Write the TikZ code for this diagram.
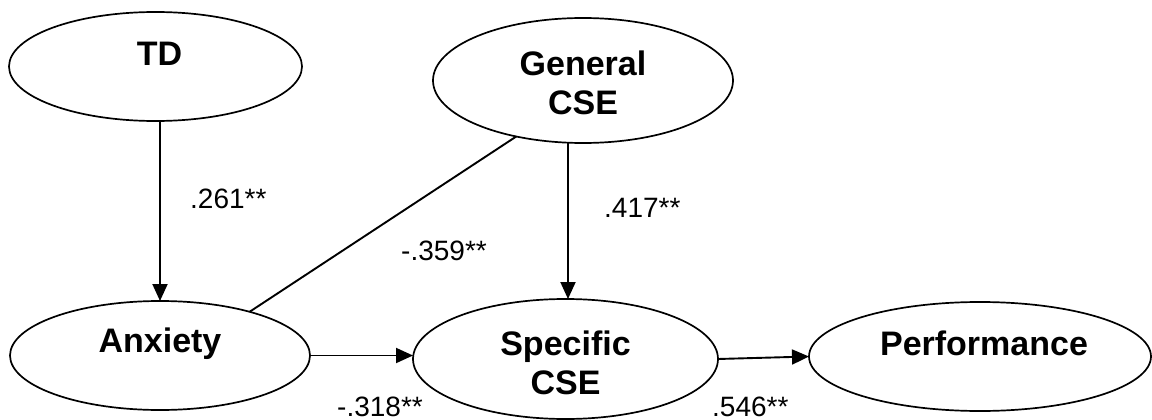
\documentclass[tikz,border=0pt]{standalone}
\usepackage{fontspec}
\setmainfont{Liberation Sans}
\usetikzlibrary{shapes.geometric,arrows.meta}
\tikzset{
  ell/.style={ellipse, draw, line width=1.7pt, inner sep=0pt, outer sep=0pt},
  vlabel/.style={font=\fontsize{34}{39}\selectfont\bfseries, inner sep=0pt, align=center},
  coef/.style={font=\fontsize{28}{32}\selectfont, inner sep=0pt, anchor=base west},
  arr/.style={line width=1.9pt, -{Triangle[length=17pt,width=15pt]}},
  conn/.style={line width=1.9pt}
}
\begin{document}
\begin{tikzpicture}[x=1pt,y=-1pt]
\useasboundingbox (0,0) rectangle (1152,420);
% ellipses
\node[ell, minimum width=293pt, minimum height=109pt] (td) at (155.5,66.5) {};
\node[ell, minimum width=300pt, minimum height=125pt] (gen) at (583,80.5) {};
\node[ell, minimum width=300pt, minimum height=109pt] (anx) at (160,355.5) {};
\node[ell, minimum width=305pt, minimum height=120pt] (spec) at (565.5,359) {};
\node[ell, minimum width=342pt, minimum height=109pt] (perf) at (980,356.5) {};
% names
\node[vlabel, anchor=base] (tdt) at (159.5,66) {TD};
\node[vlabel] (gent) at (583,82.5) {General\\CSE};
\node[vlabel, anchor=base] (anxt) at (160,352.5) {Anxiety};
\node[vlabel] (spect) at (565.5,362.5) {Specific\\CSE};
\node[vlabel, anchor=base] (perft) at (984,355) {Performance};
% connectors
\coordinate (gx) at (568,0);
\draw[arr] (td.south -| anx.north) -- (anx.north);
\draw[arr] (gen.south -| gx) -- (spec.north -| gx);
\draw[conn] (anx.26.3) -- (gen.220);
\draw[arr] (anx.east) -- (anx.east -| spec.west);
\draw[arr] (spec.east) -- (perf.west);
% coefficients
\node[coef] (c1) at (190,208) {.261**};
\node[coef] (c2) at (401,260) {-.359**};
\node[coef] (c3) at (604,217) {.417**};
\node[coef] (c4) at (337,416) {-.318**};
\node[coef] (c5) at (712,416) {.546**};
\end{tikzpicture}
\end{document}
